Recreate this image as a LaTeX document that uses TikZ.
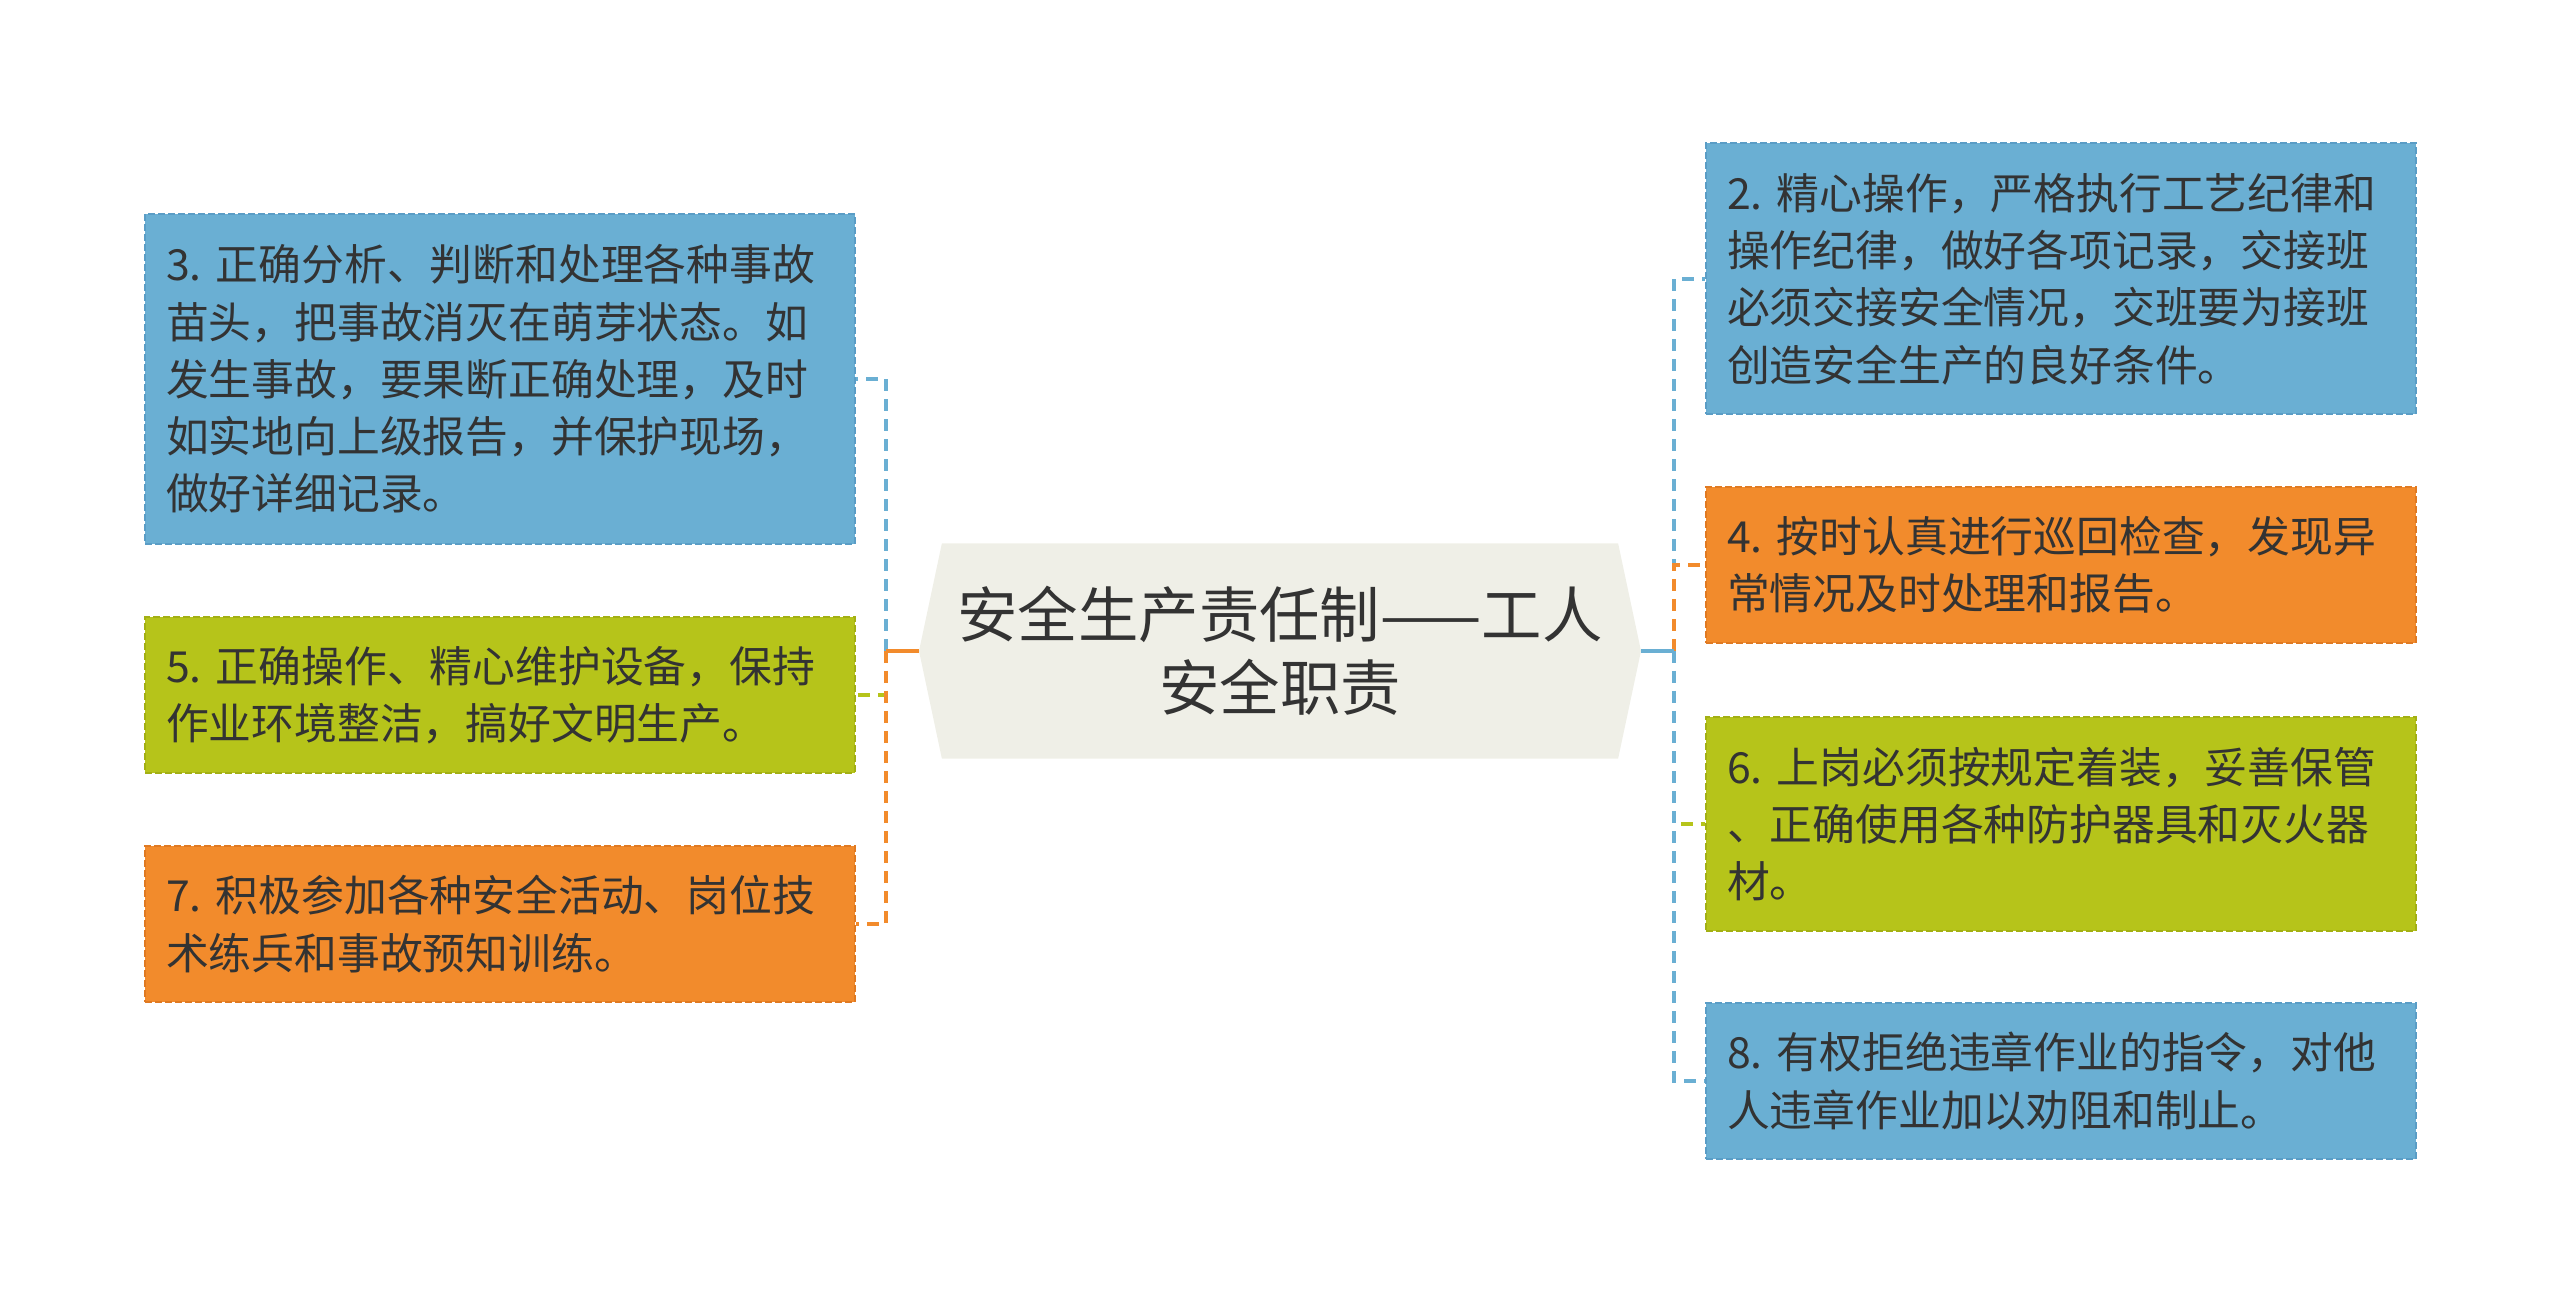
\documentclass[tikz,border=0pt]{standalone}
\usepackage{fontspec}
\setmainfont{Noto Sans CJK SC}
\usetikzlibrary{positioning,shapes.symbols}
\definecolor{aqblue}{HTML}{6AAFD3}
\definecolor{aqbluedk}{HTML}{5A9DC6}
\definecolor{aqorange}{HTML}{F28B2C}
\definecolor{aqorangedk}{HTML}{E07A22}
\definecolor{aqgreen}{HTML}{B6C41A}
\definecolor{aqgreendk}{HTML}{A3B014}
\definecolor{aqhub}{HTML}{EFEFE7}
\definecolor{aqtext}{HTML}{333333}
\tikzset{
  card/.style={anchor=west,align=left,text width=334pt,inner xsep=10.5pt,inner ysep=0pt,
               font=\fontsize{21.4pt}{28.65pt}\selectfont,text=aqtext,
               line width=1pt,dash pattern=on 3.5pt off 1.5pt},
  bluebox/.style={card,fill=aqblue,draw=aqbluedk},
  orgbox/.style={card,fill=aqorange,draw=aqorangedk},
  grnbox/.style={card,fill=aqgreen,draw=aqgreendk},
  hub/.style={signal,signal to=west and east,signal pointer angle=156,fill=aqhub,
              minimum width=361pt,minimum height=107.5pt,inner sep=0pt,align=center,
              font=\fontsize{30.2pt}{36.75pt}\selectfont,text=aqtext},
  link/.style={line width=2pt,dash pattern=on 6pt off 4pt},
  stem/.style={line width=2pt},
}
\begin{document}
\begin{tikzpicture}[x=0.5pt,y=-0.5pt]
    \useasboundingbox (0,0) rectangle (2560,1304);
    \node[hub] (c) at (1280,651) {安全生产责任制——工人\\安全职责};
    % left side
    \node[bluebox,minimum height=165pt] (b3) at (144,379)
      {3.~正确分析、判断和处理各种事故\\苗头，把事故消灭在萌芽状态。如\\发生事故，要果断正确处理，及时\\如实地向上级报告，并保护现场，\\做好详细记录。};
    \node[grnbox,minimum height=77.5pt] (b5) at (144,695)
      {5.~正确操作、精心维护设备，保持\\作业环境整洁，搞好文明生产。};
    \node[orgbox,minimum height=78pt] (b7) at (144,924)
      {7.~积极参加各种安全活动、岗位技\\术练兵和事故预知训练。};
    % right side
    \node[bluebox,minimum height=135.5pt] (b2) at (1705,279)
      {2.~精心操作，严格执行工艺纪律和\\操作纪律，做好各项记录，交接班\\必须交接安全情况，交班要为接班\\创造安全生产的良好条件。};
    \node[orgbox,minimum height=78pt] (b4) at (1705,565)
      {4.~按时认真进行巡回检查，发现异\\常情况及时处理和报告。};
    \node[grnbox,minimum height=107pt] (b6) at (1705,824)
      {6.~上岗必须按规定着装，妥善保管\\、正确使用各种防护器具和灭火器\\材。};
    \node[bluebox,minimum height=78pt] (b8) at (1705,1081)
      {8.~有权拒绝违章作业的指令，对他\\人违章作业加以劝阻和制止。};
    \coordinate (jl) at ([xshift=-16.5pt]c.west);
    \coordinate (jr) at ([xshift=16.5pt]c.east);
    \foreach \n/\cl in {b3/aqblue,b5/aqgreen,b7/aqorange}
      {\draw[link,\cl](jl) |- (\n.east);}
    \foreach \n/\cl in {b2/aqblue,b4/aqorange,b6/aqgreen,b8/aqblue}
      {\draw[link,\cl](jr) |- (\n.west);}
    \draw[stem,aqorange](c.west)--(jl);
    \draw[stem,aqblue](c.east)--(jr);
\end{tikzpicture}
\end{document}
